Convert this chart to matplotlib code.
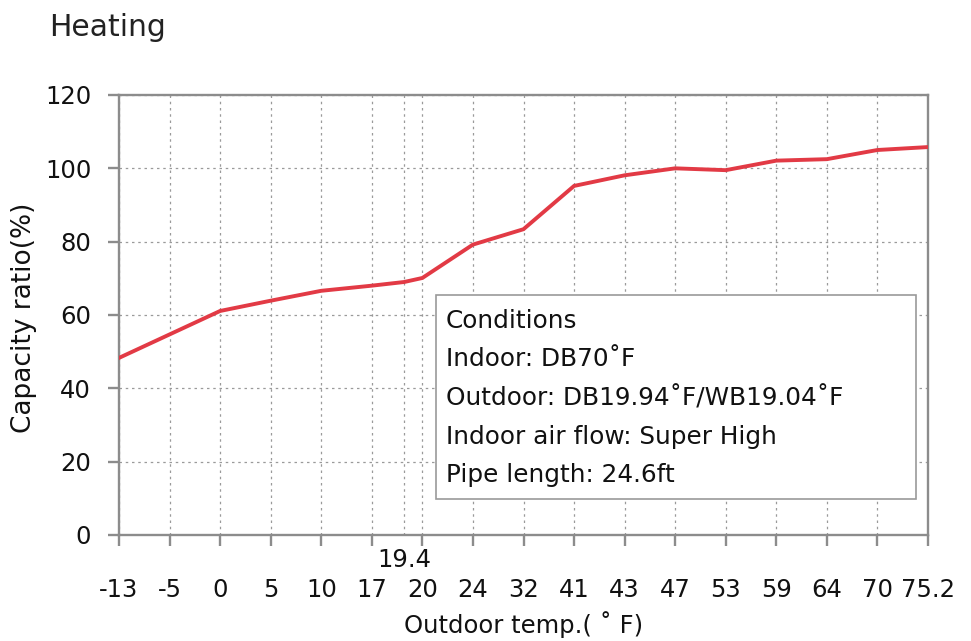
import matplotlib
matplotlib.use("Agg")
import matplotlib.pyplot as plt
from matplotlib.patches import Rectangle

plt.rcParams['font.family'] = ['DejaVu Sans']

# ---- data ----
x_labels = ["-13", "-5", "0", "5", "10", "17", "20", "24", "32", "41",
            "43", "47", "53", "59", "64", "70", "75.2"]
capacity = [48.3, None, 61.1, None, 66.6, 68.0, 70.1, 79.2, 83.4, 95.2,
            98.1, 100.0, 99.5, 102.1, 102.5, 105.0, 105.8]
extra_label = "19.4"
extra_value = 69.0
extra_pos = 5.64          # placement of 19.4 between 17 and 20 on the category axis
mid_values = {1: 54.7, 3: 63.9}  # values at -5 and 5
y_ticks = [0, 20, 40, 60, 80, 100, 120]
title = "Heating"
y_label = "Capacity ratio(%)"
x_label = "Outdoor temp.( ˚ F)"
conditions = ["Conditions",
              "Indoor: DB70˚F",
              "Outdoor: DB19.94˚F/WB19.04˚F",
              "Indoor air flow: Super High",
              "Pipe length: 24.6ft"]

# assemble series (category index positions)
xs, ys = [], []
for i, v in enumerate(capacity):
    val = v if v is not None else mid_values[i]
    if i == 6:
        xs.append(extra_pos)
        ys.append(extra_value)
    xs.append(i)
    ys.append(val)

W, H = 971, 641
fig = plt.figure(figsize=(W / 100, H / 100), dpi=100)
ax_l, ax_r, ax_b, ax_t = 119, 928, 535, 95
ax = fig.add_axes([ax_l / W, 1 - ax_b / H, (ax_r - ax_l) / W, (ax_b - ax_t) / H])

gray = "#8c8c8c"
ax.plot(xs, ys, color="#e23a45", lw=2.8, solid_joinstyle="miter", zorder=3)

ax.set_xlim(0, len(x_labels) - 1)
ax.set_ylim(0, 120)
ax.set_xticks(range(len(x_labels)))
ax.set_xticklabels(x_labels)
ax.set_xticks([extra_pos], minor=True)
ax.set_xticklabels([extra_label], minor=True)
ax.set_yticks(y_ticks)

for s in ax.spines.values():
    s.set_color(gray)
    s.set_linewidth(1.7)

ax.tick_params(axis="x", which="major", direction="out", length=8, width=1.7,
               color=gray, pad=23, labelsize=17.5, labelcolor="#111111")
ax.tick_params(axis="x", which="minor", length=0, pad=9.5, labelsize=17.5,
               labelcolor="#111111")
ax.tick_params(axis="y", direction="out", length=8, width=1.7, color=gray,
               pad=12, labelsize=17.5, labelcolor="#111111")

ax.grid(True, axis="x", which="both", color="#9a9a9a", linestyle=(0, (2, 3)), lw=0.9)
ax.grid(True, axis="y", which="major", color="#9a9a9a", linestyle=(0, (2, 3)), lw=0.9)
ax.set_axisbelow(True)

# conditions box
ax.add_patch(Rectangle((0.392, 0.082), 0.593, 0.463, transform=ax.transAxes,
                       facecolor="white", edgecolor="#9a9a9a", lw=1.2, zorder=4))
row_y = [0.487, 0.399, 0.311, 0.223, 0.136]
for t, yy in zip(conditions, row_y):
    ax.text(0.404, yy, t, transform=ax.transAxes, ha="left", va="center",
            fontsize=17.8, color="#111111", zorder=5)

fig.text(49 / W, 1 - 36 / H, title, ha="left", va="baseline", fontsize=21.5,
         color="#222222")
fig.text(24 / W, 1 - 317.5 / H, y_label, rotation=90, ha="center", va="center",
         fontsize=19, color="#111111")
fig.text(523.5 / W, 1 - 625 / H, x_label, ha="center", va="center",
         fontsize=17.5, color="#111111")

fig.savefig("out.png", dpi=100)
